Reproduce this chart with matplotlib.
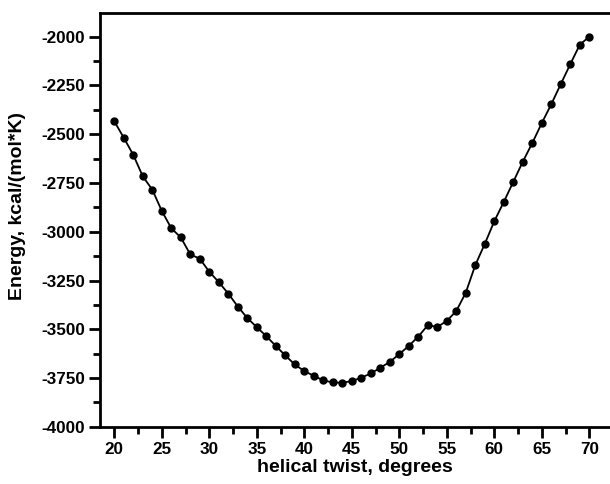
import matplotlib.pyplot as plt
from matplotlib.ticker import MultipleLocator

plt.rcParams['font.family'] = ['Liberation Sans', 'DejaVu Sans']
plt.rcParams['font.weight'] = 'bold'
plt.rcParams['axes.unicode_minus'] = False

twist = list(range(20, 71))
energy = [-2434, -2518, -2606, -2716, -2784, -2893, -2982, -3029, -3116, -3138,
          -3205, -3258, -3317, -3383, -3442, -3489, -3535, -3585, -3634, -3680,
          -3714, -3738, -3762, -3772, -3774, -3765, -3748, -3726, -3697, -3667,
          -3627, -3585, -3537, -3479, -3488, -3457, -3406, -3312, -3171, -3062,
          -2946, -2847, -2744, -2641, -2545, -2443, -2346, -2243, -2141, -2041,
          -2000]

fig = plt.figure(figsize=(6.1, 4.84), dpi=100)
ax = fig.add_axes([0.164, 0.118, 0.836, 0.855])

ax.plot(twist, energy, color='black', linewidth=1.3,
        marker='o', markersize=5)

ax.set_xlim(18.5, 72.18)
ax.set_ylim(-4000, -1879)
ax.xaxis.set_major_locator(MultipleLocator(5))
ax.xaxis.set_minor_locator(MultipleLocator(2.5))
ax.yaxis.set_major_locator(MultipleLocator(250))
ax.yaxis.set_minor_locator(MultipleLocator(125))

ax.spines['right'].set_visible(False)
for s in ['left', 'bottom', 'top']:
    ax.spines[s].set_linewidth(2)
ax.tick_params(which='major', length=8, width=2, labelsize=12.3, pad=3)
ax.tick_params(which='minor', length=5, width=2)

ax.set_xlabel('helical twist, degrees', fontsize=14, fontweight='bold', labelpad=1)
ax.set_ylabel('Energy, kcal/(mol*K)', fontsize=14, fontweight='bold')
ax.yaxis.set_label_coords(-0.145, 0.534)

fig.savefig('out.png', dpi=100)
